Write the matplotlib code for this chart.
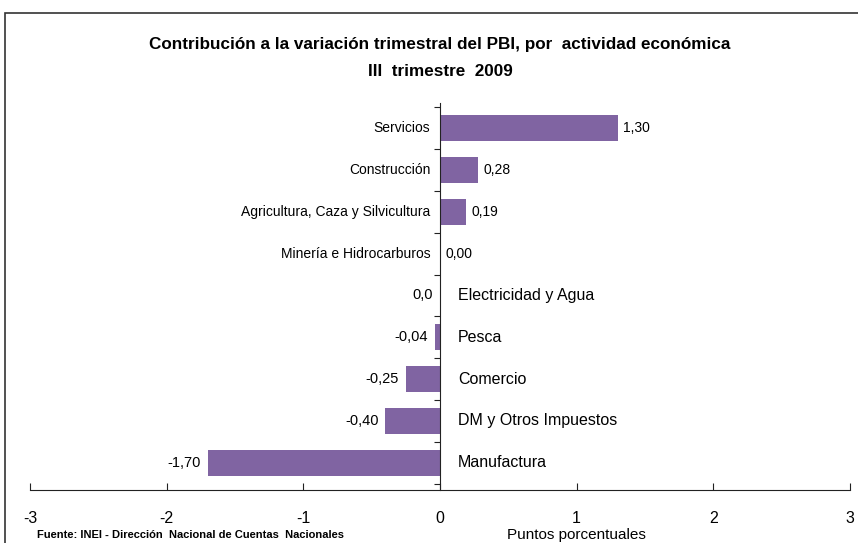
import matplotlib
matplotlib.use("Agg")
import matplotlib.pyplot as plt
from matplotlib import font_manager
from matplotlib.patches import Rectangle

names = {f.name for f in font_manager.fontManager.ttflist}
fam = "Liberation Sans Narrow" if "Liberation Sans Narrow" in names else "Liberation Sans"
plt.rcParams['font.family'] = [fam, 'DejaVu Sans']

categories = ["Servicios", "Construcción", "Agricultura, Caza y Silvicultura",
              "Minería e Hidrocarburos", "Electricidad y Agua", "Pesca",
              "Comercio", "DM y Otros Impuestos", "Manufactura"]
values = [1.30, 0.28, 0.19, 0.00, 0.0, -0.04, -0.25, -0.40, -1.70]
value_labels = ["1,30", "0,28", "0,19", "0,00", "0,0", "-0,04", "-0,25", "-0,40", "-1,70"]
label_right = [False, False, False, False, True, True, True, True, True]
xticks = [-3, -2, -1, 0, 1, 2, 3]

W, H = 858, 543
fig = plt.figure(figsize=(W / 100, H / 100), dpi=100)
fig.patches.append(Rectangle((5 / W, -0.1), 1.1, 1 - 13 / H + 0.1, transform=fig.transFigure,
                             fill=False, edgecolor="#333333", linewidth=1.2))

ax = fig.add_axes([30 / W, 1 - 490 / H, 820 / W, 387 / H])
color = "#8064A2"
n = len(categories)
ypos = list(range(n))
ax.barh(ypos, values, height=0.63, color=color)
ax.set_ylim(n - 0.35, -0.6)
ax.set_xlim(-3, 3)

for y, v, lab, right in zip(ypos, values, value_labels, label_right):
    if not right:
        ax.text(-0.07, y, categories[y], ha="right", va="center", fontsize=10)
        ax.text(v + 0.04, y, lab, ha="left", va="center", fontsize=10)
    else:
        ax.text(0.13, y, categories[y], ha="left", va="center", fontsize=11.5)
        ax.text(v - 0.05, y, lab, ha="right", va="center", fontsize=10.5)

for s in ["top", "right"]:
    ax.spines[s].set_visible(False)
ax.spines["left"].set_position(("data", 0))
ax.spines["left"].set_color("#222222")
ax.spines["bottom"].set_color("#222222")
ax.set_yticks([i - 0.5 for i in range(n)] + [n - 0.5])
ax.set_yticklabels([])
ax.tick_params(axis="y", direction="out", length=4, color="#222222")
ax.set_xticks(xticks)
ax.set_xticklabels([str(t) for t in xticks], fontsize=11.5)
ax.tick_params(axis="x", direction="in", length=5, pad=15, color="#222222")

fig.text(440 / W, 1 - 45 / H, "Contribución a la variación trimestral del PBI, por  actividad económica",
         ha="center", va="center", fontsize=12.3, fontweight="bold")
fig.text(440 / W, 1 - 72 / H, "III  trimestre  2009", ha="center", va="center",
         fontsize=12.3, fontweight="bold")
fig.text(37 / W, 1 - 535 / H, "Fuente: INEI - Dirección  Nacional de Cuentas  Nacionales",
         ha="left", va="center", fontsize=8, fontweight="bold")
fig.text(576 / W, 1 - 535 / H, "Puntos porcentuales", ha="center", va="center", fontsize=11)

fig.savefig("out.png", dpi=100)
